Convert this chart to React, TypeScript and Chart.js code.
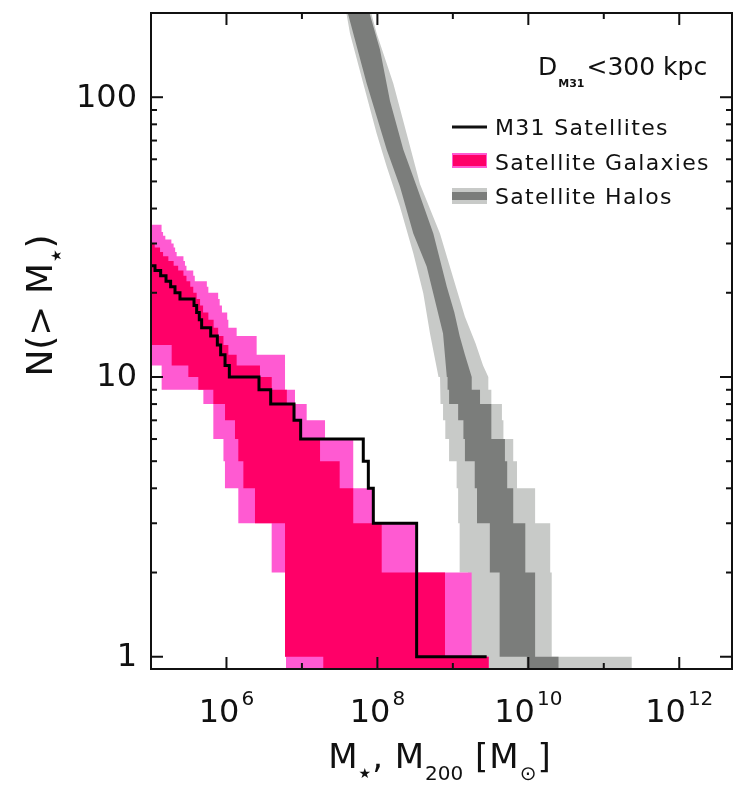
import React, { useEffect, useRef } from "react";
import { Chart, registerables } from "chart.js";

Chart.register(...registerables);

const W = 735;
const H = 787;

// ---------- axes ----------
const xMin = 1e5;
const xMax = 5e12;
const yMin = 0.904;
const yMax = 200;

const xMajorTicks = [1e6, 1e8, 1e10, 1e12];
const xMajorExponents = ["6", "8", "10", "12"];
const xMinorTicks = [1e7, 1e9, 1e11];
const yMajorTicks = [1, 10, 100];
const yMajorLabels = ["1", "10", "100"];
const yMinorTicks = [2, 3, 4, 5, 6, 7, 8, 9, 20, 30, 40, 50, 60, 70, 80, 90];

// ---------- data ----------
// M31 satellites: log10 stellar mass, descending (N(>M) step curve)
const m31LogMstar = [
  9.448, 8.52, 8.52, 7.946, 7.88, 7.813, 6.983, 6.895, 6.586, 6.431, 6.038,
  5.981, 5.923, 5.879, 5.791, 5.671, 5.64, 5.605, 5.57, 5.384, 5.318, 5.26,
  5.199, 5.128, 5.053,
];

// Satellite Galaxies band: strip k covers N in [k, k+1]; values are log10 M
const galOuterLo = [
  6.789, 6.776, 6.599, 6.157, 5.98, 5.96, 5.826, 5.826, 5.694, 5.141, 5.141,
  4.9, 4.9, 4.9, 4.9, 4.9, 4.9, 4.9, 4.9, 4.9, 4.9, 4.9, 4.9, 4.9, 4.9, 4.9,
  4.9, 4.9, 4.9, 4.9, 4.9, 4.9, 4.9, 4.9, 4.9,
];
const galOuterHi = [
  9.475, 9.249, 8.5, 7.95, 7.68, 7.68, 7.306, 7.063, 6.908, 6.776, 6.776,
  6.776, 6.4, 6.4, 6.135, 6.025, 6.01, 5.94, 5.91, 5.89, 5.76, 5.74, 5.58,
  5.56, 5.47, 5.45, 5.43, 5.34, 5.32, 5.3, 5.27, 5.19, 5.16, 5.14, 5.14,
];
const galInnerLo = [
  7.283, 6.776, 6.776, 6.378, 6.224, 6.157, 6.113, 5.981, 5.826, 5.627, 5.495,
  5.274, 5.274, 4.9, 4.9, 4.9, 4.9, 4.9, 4.9, 4.9, 4.9, 4.9, 4.9, 4.9, 4.9,
  4.9, 4.9, 4.9, 4.9, 4.9,
];
const galInnerHi = [
  9.475, 8.896, 8.057, 7.68, 7.5, 7.24, 6.974, 6.91, 6.8, 6.6, 6.444, 6.135,
  6.025, 5.96, 5.89, 5.83, 5.76, 5.69, 5.65, 5.605, 5.56, 5.52, 5.47, 5.43,
  5.36, 5.3, 5.23, 5.16, 5.12, 5.05,
];

// Satellite Halos band, low N strips (k = 0..9), log10 M
const haloOuterLo = [9.4, 9.2, 9.09, 9.07, 9.05, 8.95, 8.9, 8.87, 8.84, 8.83];
const haloInnerLo = [9.98, 9.62, 9.49, 9.32, 9.29, 9.16, 9.14, 9.07, 8.95, 8.93];
const haloInnerHi = [10.4, 10.09, 9.96, 9.8, 9.72, 9.69, 9.51, 9.51, 9.36, 9.25];
const haloOuterHi = [11.37, 10.31, 10.29, 10.09, 9.85, 9.8, 9.67, 9.65, 9.51, 9.47];

// Satellite Halos band, high N edges (N ascending, log10 M)
const haloInnerRightN = [10, 12, 14, 17, 21, 32.6, 48, 65, 97, 148, 197, 215];
const haloInnerRightM = [9.25, 9.16, 9.09, 9.02, 8.92, 8.741, 8.521, 8.343, 8.167, 8.034, 7.902, 7.87];
const haloInnerLeftN = [10, 14.3, 24.8, 32.6, 48, 65, 112, 197, 215];
const haloInnerLeftM = [8.92, 8.87, 8.653, 8.476, 8.299, 8.123, 7.858, 7.614, 7.58];
const haloOuterRightN = [10, 11, 13.2, 16.4, 21, 32.6, 49, 74, 112, 169, 197, 215];
const haloOuterRightM = [9.47, 9.4, 9.3, 9.16, 9.04, 8.829, 8.564, 8.388, 8.211, 7.991, 7.924, 7.89];
const haloOuterLeftN = [10, 14.3, 19.9, 27.7, 40.6, 56.5, 74, 112, 169, 197, 215];
const haloOuterLeftM = [8.81, 8.697, 8.608, 8.476, 8.299, 8.123, 7.991, 7.813, 7.637, 7.593, 7.56];

// ---------- colours ----------
const HOT_PINK = "#ff0068";
const LIGHT_PINK = "#ff5ad2";
const DARK_GRAY = "#7b7d7b";
const LIGHT_GRAY = "#c8cac8";
const FONT = '"DejaVu Sans", "Liberation Sans", sans-serif';

type P = { x: number; y: number };

const stripBottom = (k: number) => (k === 0 ? 0.5 : k);

function stripBand(lo: number[], hi: number[]): P[] {
  const pts: P[] = [];
  for (let k = 0; k < hi.length; k++) {
    pts.push({ x: 10 ** hi[k], y: stripBottom(k) }, { x: 10 ** hi[k], y: k + 1 });
  }
  for (let k = lo.length - 1; k >= 0; k--) {
    pts.push({ x: 10 ** lo[k], y: k + 1 }, { x: 10 ** lo[k], y: stripBottom(k) });
  }
  return pts;
}

function haloBand(
  lo: number[],
  hi: number[],
  rN: number[],
  rM: number[],
  lN: number[],
  lM: number[]
): P[] {
  const pts: P[] = [];
  for (let k = 0; k < hi.length; k++) {
    pts.push({ x: 10 ** hi[k], y: stripBottom(k) }, { x: 10 ** hi[k], y: k + 1 });
  }
  for (let i = 0; i < rN.length; i++) pts.push({ x: 10 ** rM[i], y: rN[i] });
  for (let i = lN.length - 1; i >= 0; i--) pts.push({ x: 10 ** lM[i], y: lN[i] });
  for (let k = lo.length - 1; k >= 0; k--) {
    pts.push({ x: 10 ** lo[k], y: k + 1 }, { x: 10 ** lo[k], y: stripBottom(k) });
  }
  return pts;
}

function m31Steps(): P[] {
  const n = m31LogMstar.length;
  const pts: P[] = [{ x: xMin, y: n }];
  for (let k = n; k >= 1; k--) {
    const xr = 10 ** m31LogMstar[k - 1];
    pts.push({ x: xr, y: k });
    if (k > 1) pts.push({ x: xr, y: k - 1 });
  }
  return pts;
}

function polyDataset(data: P[], color: string, order: number) {
  return {
    data,
    fill: "shape",
    backgroundColor: color,
    borderColor: "rgba(0,0,0,0)",
    borderWidth: 0,
    pointRadius: 0,
    order,
  };
}

const decorPlugin = {
  id: "decor",
  afterDraw(chart: any) {
    const { ctx, chartArea: a } = chart;
    const xs = chart.scales.x;
    const ys = chart.scales.y;
    ctx.save();
    ctx.strokeStyle = "#111";
    ctx.fillStyle = "#111";
    ctx.lineWidth = 2;
    const seg = (x1: number, y1: number, x2: number, y2: number) => {
      ctx.beginPath();
      ctx.moveTo(x1, y1);
      ctx.lineTo(x2, y2);
      ctx.stroke();
    };
    // frame
    ctx.strokeRect(a.left, a.top, a.right - a.left, a.bottom - a.top);
    // x ticks
    xMajorTicks.forEach((v) => {
      const p = xs.getPixelForValue(v);
      seg(p, a.bottom, p, a.bottom - 12);
      seg(p, a.top, p, a.top + 12);
    });
    xMinorTicks.forEach((v) => {
      const p = xs.getPixelForValue(v);
      seg(p, a.bottom, p, a.bottom - 6);
      seg(p, a.top, p, a.top + 6);
    });
    // y ticks
    yMajorTicks.forEach((v) => {
      const p = ys.getPixelForValue(v);
      seg(a.left, p, a.left + 12, p);
      seg(a.right, p, a.right - 12, p);
    });
    yMinorTicks.forEach((v) => {
      const p = ys.getPixelForValue(v);
      seg(a.left, p, a.left + 6, p);
      seg(a.right, p, a.right - 6, p);
    });

    // tick labels
    ctx.textBaseline = "alphabetic";
    ctx.textAlign = "left";
    xMajorTicks.forEach((v, i) => {
      const p = xs.getPixelForValue(v);
      ctx.font = `32px ${FONT}`;
      const w10 = ctx.measureText("10").width;
      ctx.font = `20px ${FONT}`;
      const we = ctx.measureText(xMajorExponents[i]).width;
      const start = p - (w10 + 2 + we) / 2;
      ctx.font = `32px ${FONT}`;
      ctx.fillText("10", start, 722);
      ctx.font = `20px ${FONT}`;
      ctx.fillText(xMajorExponents[i], start + w10 + 2, 705);
    });
    ctx.font = `32px ${FONT}`;
    ctx.textAlign = "right";
    ctx.textBaseline = "middle";
    yMajorTicks.forEach((v, i) => {
      const p = ys.getPixelForValue(v);
      ctx.fillText(yMajorLabels[i], 137, p + 1);
    });

    // x title: M*, M200 [M⊙]
    ctx.textAlign = "left";
    ctx.textBaseline = "alphabetic";
    const parts: [string, number, number][] = [
      ["M", 34, 0],
      ["\u2605", 14, 10],
      [", ", 34, 0],
      ["M", 34, 0],
      ["200", 20, 12],
      [" [", 34, 0],
      ["M", 34, 0],
      ["\u2299", 20, 12],
      ["]", 34, 0],
    ];
    let total = 0;
    parts.forEach(([t, s]) => {
      ctx.font = `${s}px ${FONT}`;
      total += ctx.measureText(t).width + 1;
    });
    let cx = 440 - total / 2;
    parts.forEach(([t, s, dy]) => {
      ctx.font = `${s}px ${FONT}`;
      ctx.fillText(t, cx, 768 + dy);
      cx += ctx.measureText(t).width + 1;
    });

    // y title: N(> M*)
    ctx.save();
    ctx.translate(52, 305);
    ctx.rotate(-Math.PI / 2);
    const yparts: [string, number, number][] = [
      ["N(> M", 36, 0],
      ["\u2605", 14, 9],
      [")", 36, 0],
    ];
    let yt = 0;
    yparts.forEach(([t, s]) => {
      ctx.font = `${s}px ${FONT}`;
      yt += ctx.measureText(t).width + 1;
    });
    let yx = -yt / 2;
    yparts.forEach(([t, s, dy]) => {
      ctx.font = `${s}px ${FONT}`;
      ctx.fillText(t, yx, dy);
      yx += ctx.measureText(t).width + 1;
    });
    ctx.restore();

    // annotation D_M31 < 300 kpc
    ctx.font = `25px ${FONT}`;
    ctx.fillText("D", 538, 75);
    const wD = ctx.measureText("D").width;
    ctx.font = `bold 11px ${FONT}`;
    ctx.fillText("M31", 538 + wD + 1, 87);
    const wM = ctx.measureText("M31").width;
    ctx.font = `25px ${FONT}`;
    ctx.fillText("<300 kpc", 538 + wD + wM + 3, 75);

    // legend
    (ctx as any).letterSpacing = "1.3px";
    ctx.font = `22px ${FONT}`;
    ctx.lineWidth = 3;
    seg(452, 127, 487, 127);
    ctx.fillText("M31 Satellites", 495, 135);
    ctx.fillStyle = LIGHT_PINK;
    ctx.fillRect(452, 153, 35, 15);
    ctx.fillStyle = HOT_PINK;
    ctx.fillRect(453, 155, 33, 11);
    ctx.fillStyle = "#111";
    ctx.fillText("Satellite Galaxies", 495, 170);
    ctx.fillStyle = LIGHT_GRAY;
    ctx.fillRect(452, 188, 35, 16);
    ctx.fillStyle = DARK_GRAY;
    ctx.fillRect(452, 192, 35, 8);
    ctx.fillStyle = "#111";
    ctx.fillText("Satellite Halos", 495, 204);
    (ctx as any).letterSpacing = "0px";
    ctx.restore();
  },
};

export default function App() {
  const ref = useRef<HTMLCanvasElement | null>(null);

  useEffect(() => {
    const canvas = ref.current;
    if (!canvas) return;
    const chart = new Chart(canvas, {
      type: "line",
      data: {
        datasets: [
          {
            data: m31Steps(),
            borderColor: "#000",
            borderWidth: 3,
            pointRadius: 0,
            fill: false,
            order: 1,
          } as any,
          polyDataset(stripBand(galInnerLo, galInnerHi), HOT_PINK, 2) as any,
          polyDataset(stripBand(galOuterLo, galOuterHi), LIGHT_PINK, 3) as any,
          polyDataset(
            haloBand(haloInnerLo, haloInnerHi, haloInnerRightN, haloInnerRightM, haloInnerLeftN, haloInnerLeftM),
            DARK_GRAY,
            4
          ) as any,
          polyDataset(
            haloBand(haloOuterLo, haloOuterHi, haloOuterRightN, haloOuterRightM, haloOuterLeftN, haloOuterLeftM),
            LIGHT_GRAY,
            5
          ) as any,
        ],
      },
      options: {
        animation: false,
        responsive: false,
        events: [],
        layout: { padding: { left: 0, right: 3, top: 13, bottom: 0 } },
        plugins: {
          legend: { display: false },
          tooltip: { enabled: false },
        },
        elements: { point: { radius: 0 }, line: { tension: 0 } },
        scales: {
          x: {
            type: "logarithmic",
            min: xMin,
            max: xMax,
            grid: { display: false },
            border: { display: false },
            ticks: { display: false },
            afterFit: (s: any) => {
              s.height = 118;
            },
          },
          y: {
            type: "logarithmic",
            min: yMin,
            max: yMax,
            grid: { display: false },
            border: { display: false },
            ticks: { display: false },
            afterFit: (s: any) => {
              s.width = 151;
            },
          },
        },
      } as any,
      plugins: [decorPlugin],
    });
    return () => chart.destroy();
  }, []);

  return (
    <div style={{ position: "absolute", left: 0, top: 0, width: W, height: H, background: "#fff" }}>
      <canvas ref={ref} width={W} height={H} style={{ width: W, height: H, display: "block" }} />
    </div>
  );
}
